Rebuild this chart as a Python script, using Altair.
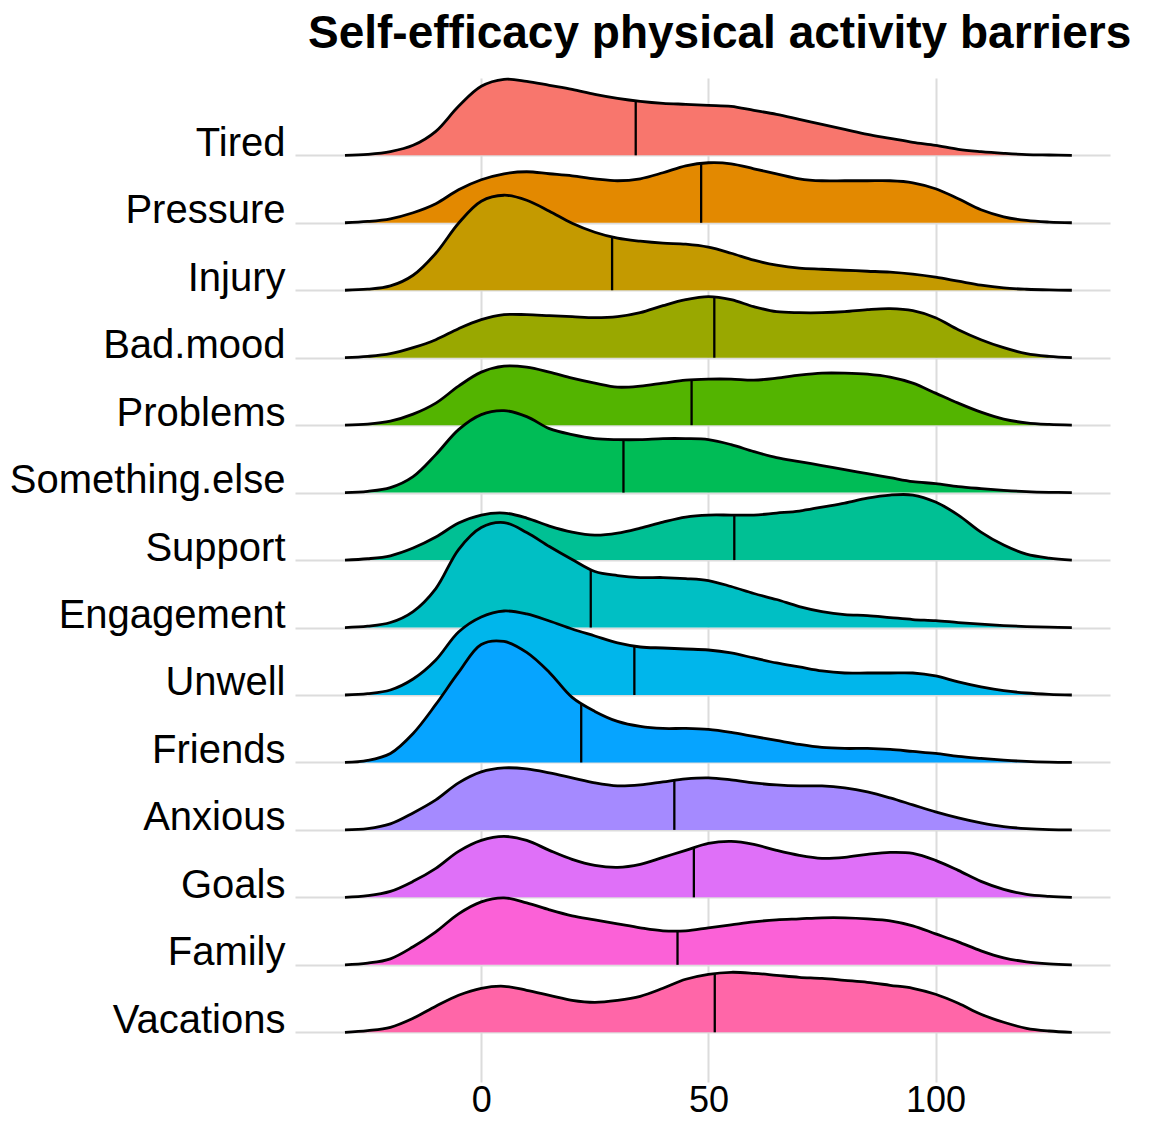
import altair as alt
import pandas as pd
import numpy as np

title_text = "Self-efficacy physical activity barriers"

categories = ["Tired", "Pressure", "Injury", "Bad.mood", "Problems", "Something.else",
              "Support", "Engagement", "Unwell", "Friends", "Anxious", "Goals",
              "Family", "Vacations"]
colors = ["#F8766D", "#E38900", "#C49A00", "#99A800", "#53B400", "#00BC56", "#00C094",
          "#00BFC4", "#00B6EB", "#06A4FF", "#A58AFF", "#DF70F8", "#FB61D7", "#FF66A8"]

x_grid = [-30, -25, -20, -15, -10, -5, 0, 5, 10, 15, 20, 25, 30, 35, 40, 45, 50,
          55, 60, 65, 70, 75, 80, 85, 90, 95, 100, 105, 110, 115, 120, 125, 130]

tired = [0, 1, 3.7, 10, 24, 49, 69, 76, 74, 70, 66, 61, 57, 54, 52, 51, 50, 49, 45, 41,
         36, 31, 26, 21, 17, 13, 10, 6, 3.7, 2, 0.7, 0.3, 0]
pressure = [0, 1.3, 4, 10, 19, 33, 43, 49, 51, 49, 47, 44, 42, 44, 50, 57, 60, 59, 54, 49,
            44, 42, 42, 42, 42, 40, 34, 24, 13, 6, 2.3, 0.7, 0]
injury = [0, 1, 4.3, 15, 37, 67, 89, 95, 90, 79, 67, 58, 52, 49, 47, 46, 43, 37, 30, 25,
          22, 21, 20, 19, 18, 16, 13, 9, 5, 2.3, 1, 0.3, 0]
bad_mood = [0, 1.3, 4, 10, 18, 29, 38, 43, 43, 42, 41, 40, 41, 45, 52, 58, 61, 58, 51, 46,
            45, 45, 46, 48, 49, 47, 40, 28, 18, 10, 4, 1.3, 0]
problems = [0, 1, 4, 11, 22, 39, 53, 59, 58, 53, 47, 42, 38, 39, 42, 45, 46, 46, 45, 47,
            50, 52, 52, 51, 48, 42, 32, 22, 13, 6, 2.3, 0.7, 0]
something_else = [0, 1.3, 5, 16, 38, 63, 78, 82, 76, 64, 58, 54, 53, 53, 54, 54, 53, 48, 41, 35,
                  31, 27, 23, 19, 15, 11, 9, 6, 4, 2.3, 1, 0.3, 0]
support = [0, 1.3, 4.3, 12, 23, 37, 45, 47, 42, 34, 28, 25, 27, 32, 38, 43, 45, 45, 45, 47,
           49, 53, 57, 62, 65, 65, 58, 45, 28, 15, 6, 2, 0]
engagement = [0, 1.3, 5, 16, 39, 78, 100, 105, 95, 81, 68, 56, 52, 50, 50, 49, 47, 41, 34, 28,
              21, 16, 13, 12, 10, 8, 7, 5, 3.3, 2, 1, 0.3, 0]
unwell = [0, 1.3, 5, 16, 35, 63, 78, 84, 81, 74, 66, 59, 52, 48, 47, 46, 45, 42, 37, 32,
          28, 24, 22, 22, 22, 22, 19, 13, 8, 4.3, 2, 0.7, 0]
friends = [0, 2, 9, 29, 58, 90, 118, 121, 110, 90, 65, 51, 41, 36, 34, 34, 33, 30, 26, 22,
           18, 15, 14, 14, 13, 11, 9, 6, 4, 2.3, 1, 0.3, 0]
anxious = [0, 1.3, 6, 17, 30, 47, 58, 62, 61, 57, 52, 47, 44, 45, 48, 51, 52, 50, 47, 45,
           44, 44, 42, 38, 32, 25, 18, 12, 7, 3.3, 1.3, 0.3, 0]
goals = [0, 1.7, 6, 16, 29, 46, 57, 61, 57, 47, 38, 32, 30, 33, 40, 47, 54, 56, 53, 47,
         42, 39, 40, 43, 45, 44, 37, 27, 16, 8, 3, 1, 0]
family = [0, 1.7, 6, 18, 33, 51, 63, 67, 62, 55, 49, 45, 41, 37, 34, 34, 37, 40, 43, 45,
          46, 47, 47, 46, 44, 39, 31, 23, 14, 7, 3, 1, 0]
vacations = [0, 1.7, 5, 14, 26, 37, 44, 46, 42, 37, 32, 30, 32, 36, 44, 53, 58, 60, 59, 57,
             55, 54, 52, 50, 47, 44, 38, 29, 18, 10, 4, 1.3, 0]

densities = [tired, pressure, injury, bad_mood, problems, something_else, support,
             engagement, unwell, friends, anxious, goals, family, vacations]
medians = [34.0, 48.4, 28.8, 51.3, 46.3, 31.3, 55.7, 24.1, 33.7, 22.0, 42.5, 46.8, 43.2, 51.4]

x_ticks = [0, 50, 100]

n = len(categories)
DENS_SCALE = 1 / 67.46  # density units per ridge row

xs = alt.Scale(domain=[-41, 138.4], nice=False, zero=False)
ys = alt.Scale(domain=[-0.737, 14.146], nice=False, zero=False)

label_expr = "[" + ",".join("'%s'" % c for c in reversed(categories)) + "][datum.value]"

x_axis = alt.Axis(values=x_ticks, grid=True, gridColor="#dcdcdc", gridWidth=2,
                  domain=False, ticks=False, labelPadding=29, labelFontSize=36,
                  labelFont="Liberation Sans", labelColor="black",
                  labelBaseline="alphabetic", labelFlush=False, title=None)
y_axis = alt.Axis(values=list(range(n)), labelExpr=label_expr, grid=True,
                  gridColor="#dcdcdc", gridWidth=2, domain=False, ticks=False,
                  labelPadding=10, labelFontSize=40, labelFont="Liberation Sans",
                  labelColor="black", labelBaseline="alphabetic", labelLimit=600,
                  labelOverlap=False, labelFlush=False, labelBound=False, title=None)

INTERP = "catmull-rom"

layers = []
for i, (cat, dens, med, col) in enumerate(zip(categories, densities, medians, colors)):
    row = n - 1 - i
    df = pd.DataFrame({
        "x": x_grid,
        "top": [row + v * DENS_SCALE for v in dens],
        "base": [row] * len(x_grid),
    })
    area = alt.Chart(df).mark_area(color=col, opacity=1, interpolate=INTERP).encode(
        x=alt.X("x:Q", scale=xs, axis=x_axis),
        y=alt.Y("top:Q", scale=ys, axis=y_axis),
        y2="base:Q",
    )
    line = alt.Chart(df).mark_line(color="black", strokeWidth=2.8, interpolate=INTERP).encode(
        x=alt.X("x:Q", scale=xs, axis=x_axis),
        y=alt.Y("top:Q", scale=ys, axis=y_axis),
    )
    med_h = float(np.interp(med, x_grid, dens))
    mdf = pd.DataFrame({"x": [med], "top": [row], "y2": [row + med_h * DENS_SCALE]})
    rule = alt.Chart(mdf).mark_rule(color="black", strokeWidth=2.3).encode(
        x=alt.X("x:Q", scale=xs, axis=x_axis),
        y=alt.Y("top:Q", scale=ys, axis=y_axis),
        y2="y2:Q",
    )
    layers += [area, line, rule]

title_layer = alt.Chart(pd.DataFrame({"t": [title_text]})).mark_text(
    font="Liberation Sans", fontSize=46, fontWeight="bold", color="black",
    align="left", baseline="alphabetic",
).encode(text="t:N", x=alt.value(13), y=alt.value(-30))
layers.append(title_layer)

chart = alt.layer(*layers).properties(
    width=815,
    height=1004,
    autosize="none",
    padding={"left": 287, "top": 70, "right": 33, "bottom": 37},
).configure(background="white", view=alt.ViewConfig(stroke=None))

chart.save("out.html", embed_options={"renderer": "svg", "actions": False})
